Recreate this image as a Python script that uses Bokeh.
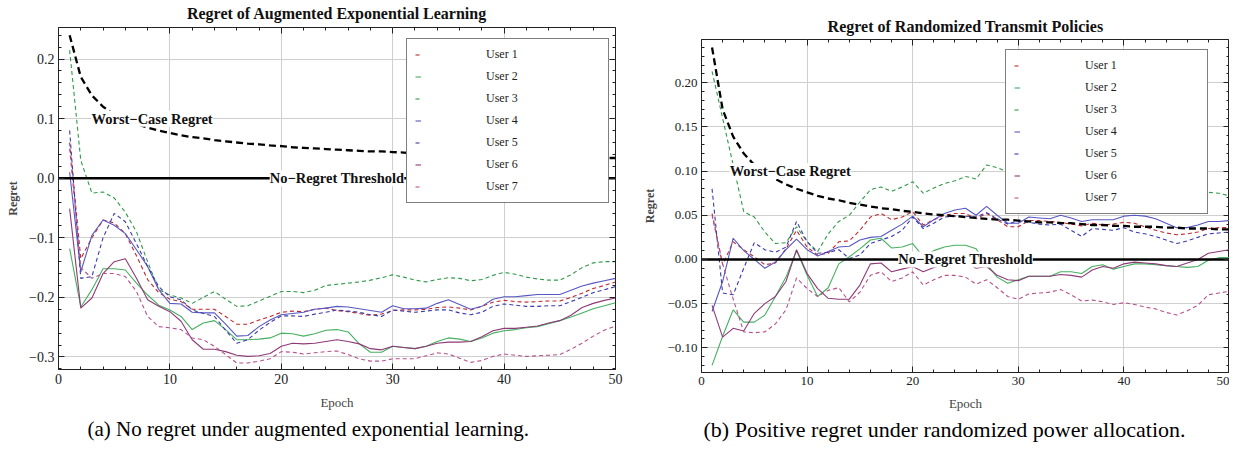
from bokeh.plotting import figure
from bokeh.layouts import row
from bokeh.models import (FixedTicker, LinearAxis, Range1d, Legend, LegendItem,
                          Label, Title)
from bokeh.embed import file_html
from bokeh.resources import INLINE

FONT = "Liberation Serif"

# ---------------- data ----------------
EPOCHS = list(range(1, 51))

WORST_CASE = [0.240, 0.170, 0.139, 0.120, 0.107, 0.098, 0.091, 0.085, 0.080, 0.076,
              0.072, 0.069, 0.067, 0.064, 0.062, 0.060, 0.058, 0.057, 0.055, 0.054,
              0.052, 0.051, 0.050, 0.049, 0.048, 0.047, 0.046, 0.045, 0.045, 0.044,
              0.043, 0.042, 0.042, 0.041, 0.041, 0.040, 0.039, 0.039, 0.038, 0.038,
              0.037, 0.037, 0.037, 0.036, 0.036, 0.035, 0.035, 0.035, 0.034, 0.034]

# (a) augmented exponential learning
A_USER1 = [0.060, -0.135, -0.100, -0.070, -0.075, -0.093, -0.130, -0.170, -0.192, -0.203,
           -0.207, -0.220, -0.220, -0.220, -0.232, -0.245, -0.245, -0.238, -0.232, -0.225,
           -0.223, -0.224, -0.220, -0.218, -0.222, -0.224, -0.227, -0.230, -0.228, -0.222,
           -0.221, -0.221, -0.220, -0.217, -0.216, -0.218, -0.221, -0.215, -0.208, -0.205,
           -0.207, -0.208, -0.207, -0.206, -0.206, -0.200, -0.193, -0.185, -0.180, -0.174]
A_USER2 = [-0.118, -0.216, -0.187, -0.152, -0.152, -0.154, -0.176, -0.196, -0.213, -0.221,
           -0.232, -0.254, -0.243, -0.239, -0.254, -0.271, -0.271, -0.270, -0.268, -0.260,
           -0.261, -0.265, -0.261, -0.255, -0.254, -0.258, -0.278, -0.292, -0.292, -0.282,
           -0.284, -0.286, -0.282, -0.274, -0.268, -0.270, -0.274, -0.268, -0.260, -0.256,
           -0.254, -0.251, -0.249, -0.244, -0.239, -0.233, -0.226, -0.219, -0.214, -0.209]
A_USER3 = [0.215, 0.030, -0.025, -0.023, -0.033, -0.057, -0.090, -0.140, -0.187, -0.196,
           -0.201, -0.210, -0.200, -0.190, -0.203, -0.215, -0.214, -0.206, -0.198, -0.190,
           -0.190, -0.192, -0.188, -0.180, -0.178, -0.176, -0.174, -0.171, -0.167, -0.162,
           -0.166, -0.171, -0.174, -0.170, -0.167, -0.168, -0.172, -0.170, -0.163, -0.158,
           -0.161, -0.166, -0.169, -0.171, -0.171, -0.162, -0.150, -0.142, -0.140, -0.140]
A_USER4 = [0.010, -0.157, -0.096, -0.070, -0.079, -0.093, -0.120, -0.148, -0.187, -0.210,
           -0.211, -0.225, -0.226, -0.226, -0.245, -0.265, -0.264, -0.249, -0.238, -0.229,
           -0.227, -0.225, -0.220, -0.218, -0.215, -0.216, -0.219, -0.222, -0.225, -0.214,
           -0.219, -0.219, -0.218, -0.210, -0.204, -0.212, -0.220, -0.215, -0.203, -0.199,
           -0.199, -0.197, -0.195, -0.195, -0.195, -0.188, -0.181, -0.176, -0.172, -0.168]
A_USER5 = [0.080, -0.168, -0.165, -0.100, -0.059, -0.073, -0.110, -0.148, -0.182, -0.199,
           -0.204, -0.221, -0.227, -0.232, -0.255, -0.277, -0.271, -0.255, -0.242, -0.231,
           -0.231, -0.232, -0.228, -0.225, -0.221, -0.223, -0.225, -0.229, -0.232, -0.221,
           -0.223, -0.225, -0.223, -0.221, -0.221, -0.226, -0.229, -0.225, -0.215, -0.211,
           -0.213, -0.215, -0.215, -0.214, -0.214, -0.207, -0.200, -0.192, -0.187, -0.182]
A_USER6 = [-0.051, -0.218, -0.201, -0.160, -0.140, -0.135, -0.168, -0.204, -0.215, -0.224,
           -0.240, -0.271, -0.287, -0.287, -0.291, -0.297, -0.299, -0.298, -0.294, -0.282,
           -0.277, -0.278, -0.277, -0.274, -0.271, -0.274, -0.278, -0.286, -0.288, -0.282,
           -0.284, -0.286, -0.282, -0.277, -0.275, -0.275, -0.274, -0.266, -0.256, -0.252,
           -0.252, -0.250, -0.248, -0.243, -0.239, -0.230, -0.217, -0.210, -0.205, -0.201]
A_USER7 = [0.050, -0.150, -0.168, -0.160, -0.160, -0.165, -0.190, -0.232, -0.249, -0.251,
           -0.254, -0.268, -0.271, -0.282, -0.296, -0.310, -0.310, -0.307, -0.303, -0.291,
           -0.292, -0.295, -0.293, -0.291, -0.290, -0.296, -0.303, -0.307, -0.307, -0.303,
           -0.303, -0.303, -0.298, -0.293, -0.295, -0.302, -0.309, -0.306, -0.299, -0.295,
           -0.297, -0.299, -0.298, -0.297, -0.296, -0.287, -0.277, -0.265, -0.255, -0.248]

# (b) randomized transmit policies
B_USER1 = [0.052, -0.006, 0.020, 0.011, 0.003, -0.006, -0.004, 0.012, 0.033, 0.014,
           0.005, 0.007, 0.020, 0.021, 0.033, 0.048, 0.052, 0.045, 0.048, 0.054,
           0.039, 0.045, 0.050, 0.052, 0.052, 0.046, 0.052, 0.045, 0.037, 0.037,
           0.044, 0.044, 0.043, 0.042, 0.040, 0.038, 0.041, 0.039, 0.040, 0.042,
           0.041, 0.037, 0.033, 0.030, 0.028, 0.029, 0.031, 0.035, 0.036, 0.036]
B_USER2 = [-0.120, -0.087, -0.057, -0.071, -0.071, -0.063, -0.042, -0.020, 0.010, -0.018,
           -0.042, -0.032, -0.005, 0.003, 0.012, 0.022, 0.024, 0.013, 0.014, 0.018,
           0.003, 0.010, 0.014, 0.016, 0.016, 0.012, -0.005, -0.020, -0.027, -0.023,
           -0.019, -0.019, -0.019, -0.014, -0.014, -0.016, -0.008, -0.006, -0.011, -0.008,
           -0.005, -0.005, -0.006, -0.007, -0.008, -0.009, -0.008, -0.001, 0.002, 0.002]
B_USER3 = [0.213, 0.160, 0.107, 0.054, 0.048, 0.031, 0.018, 0.019, 0.037, 0.020,
           0.009, 0.029, 0.043, 0.050, 0.065, 0.079, 0.082, 0.077, 0.082, 0.088,
           0.075, 0.081, 0.086, 0.089, 0.094, 0.091, 0.107, 0.104, 0.099, 0.096,
           0.096, 0.094, 0.097, 0.092, 0.089, 0.091, 0.088, 0.085, 0.087, 0.084,
           0.086, 0.082, 0.079, 0.081, 0.077, 0.073, 0.071, 0.076, 0.075, 0.072]
B_USER4 = [-0.059, -0.025, 0.024, 0.010, 0.000, -0.010, -0.003, 0.011, 0.023, 0.011,
           0.004, 0.009, 0.014, 0.015, 0.022, 0.025, 0.026, 0.033, 0.040, 0.049,
           0.037, 0.045, 0.052, 0.056, 0.058, 0.050, 0.060, 0.050, 0.041, 0.041,
           0.048, 0.047, 0.046, 0.050, 0.047, 0.043, 0.045, 0.045, 0.045, 0.049,
           0.050, 0.049, 0.046, 0.041, 0.036, 0.036, 0.039, 0.043, 0.043, 0.044]
B_USER5 = [0.080, -0.038, -0.040, -0.010, 0.019, 0.011, 0.008, 0.014, 0.043, 0.020,
           0.007, 0.008, 0.011, 0.001, 0.005, 0.018, 0.022, 0.026, 0.033, 0.048,
           0.035, 0.041, 0.048, 0.049, 0.049, 0.048, 0.053, 0.046, 0.040, 0.044,
           0.042, 0.040, 0.039, 0.040, 0.033, 0.026, 0.035, 0.034, 0.033, 0.036,
           0.031, 0.029, 0.026, 0.022, 0.018, 0.021, 0.025, 0.029, 0.030, 0.031]
B_USER6 = [-0.052, -0.088, -0.078, -0.081, -0.061, -0.050, -0.042, -0.025, 0.011, -0.016,
           -0.033, -0.044, -0.045, -0.045, -0.029, -0.005, -0.004, -0.014, -0.011, -0.008,
           -0.014, -0.009, -0.006, -0.004, -0.003, -0.010, -0.008, -0.018, -0.023, -0.024,
           -0.019, -0.019, -0.019, -0.017, -0.018, -0.020, -0.012, -0.008, -0.010, -0.005,
           -0.003, -0.004, -0.005, -0.007, -0.008, -0.004, 0.000, 0.007, 0.009, 0.011]
B_USER7 = [0.050, -0.005, -0.045, -0.082, -0.083, -0.082, -0.073, -0.057, -0.021, -0.033,
           -0.042, -0.035, -0.032, -0.048, -0.037, -0.018, -0.014, -0.025, -0.021, -0.014,
           -0.029, -0.023, -0.018, -0.018, -0.020, -0.028, -0.023, -0.032, -0.042, -0.045,
           -0.039, -0.038, -0.037, -0.034, -0.040, -0.047, -0.046, -0.048, -0.051, -0.049,
           -0.051, -0.054, -0.056, -0.060, -0.063, -0.058, -0.052, -0.040, -0.038, -0.036]

USER_NAMES = ["User 1", "User 2", "User 3", "User 4", "User 5", "User 6", "User 7"]
USER_COLORS = ["#c0282d", "#46b060", "#2e9a48", "#5858c4", "#3a3aae", "#8e3a78", "#b8508e"]
USER_DASH = ["4 3", "solid", "4 3", "solid", "4 3", "solid", "4 3"]

X_RANGE = (0, 50)
X_MAJOR = [0, 10, 20, 30, 40, 50]
X_MINOR = [2, 4, 6, 8, 12, 14, 16, 18, 22, 24, 26, 28, 32, 34, 36, 38, 42, 44, 46, 48]
X_LABELS = ["0", "10", "20", "30", "40", "50"]

A_Y_RANGE = (-0.321, 0.253)
A_Y_MAJOR = [-0.3, -0.2, -0.1, 0.0, 0.1, 0.2]
A_Y_MINOR = [-0.32, -0.28, -0.26, -0.24, -0.22, -0.18, -0.16, -0.14, -0.12, -0.08, -0.06,
             -0.04, -0.02, 0.02, 0.04, 0.06, 0.08, 0.12, 0.14, 0.16, 0.18, 0.22, 0.24]
A_Y_LABELS = ["\u22120.3", "\u22120.2", "\u22120.1", "0.0", "0.1", "0.2"]

B_Y_RANGE = (-0.128, 0.249)
B_Y_MAJOR = [-0.10, -0.05, 0.0, 0.05, 0.10, 0.15, 0.20]
B_Y_MINOR = [-0.12, -0.11, -0.09, -0.08, -0.07, -0.06, -0.04, -0.03, -0.02, -0.01,
             0.01, 0.02, 0.03, 0.04, 0.06, 0.07, 0.08, 0.09, 0.11, 0.12, 0.13, 0.14,
             0.16, 0.17, 0.18, 0.19, 0.21, 0.22, 0.23, 0.24]
B_Y_LABELS = ["\u22120.10", "\u22120.05", "0.00", "0.05", "0.10", "0.15", "0.20"]

THRESHOLD = 0.0
WORST_LABEL_POS = (8.4, 0.1)
THRESH_LABEL_POS = (25, 0.0)

HEIGHT = 443


def style_axis(ax, major, minor, labels, fs, show_labels=True):
    ax.ticker = FixedTicker(ticks=major, minor_ticks=minor)
    ax.major_tick_in = 6
    ax.major_tick_out = 0
    ax.minor_tick_in = 3
    ax.minor_tick_out = 0
    ax.axis_line_color = "#222222"
    ax.major_tick_line_color = "#222222"
    ax.minor_tick_line_color = "#222222"
    ax.major_label_text_font = FONT
    ax.major_label_text_color = "#222222"
    if show_labels:
        ax.major_label_overrides = {t: l for t, l in zip(major, labels)}
        ax.major_label_text_font_size = fs
    else:
        ax.major_label_overrides = {t: "" for t in major}
        ax.major_label_text_font_size = "0px"
        ax.major_label_standoff = 0


def build(title, series, y_range, y_major, y_minor, y_labels, tick_fs, width,
          mb_left, mb_right, mb_top, mb_bottom, title_standoff, legend_loc,
          caption, cap_fs, cap_offset, cap_standoff, y_label_standoff):
    p = figure(width=width, height=HEIGHT, x_range=Range1d(*X_RANGE),
               y_range=Range1d(*y_range), output_backend="svg", toolbar_location=None,
               min_border_left=mb_left, min_border_right=mb_right,
               min_border_top=mb_top, min_border_bottom=mb_bottom,
               frame_align=False)
    p.title.text = title
    p.title.align = "center"
    p.title.vertical_align = "top"
    p.title.text_font = FONT
    p.title.text_font_size = "16px"
    p.title.text_font_style = "bold"
    p.title.text_color = "#111111"
    p.title.standoff = title_standoff
    p.outline_line_color = "#222222"
    p.outline_line_width = 1

    style_axis(p.xaxis[0], X_MAJOR, X_MINOR, X_LABELS, tick_fs)
    style_axis(p.yaxis[0], y_major, y_minor, y_labels, tick_fs)
    p.xaxis[0].major_label_standoff = 4
    p.yaxis[0].major_label_standoff = 4
    p.xaxis[0].axis_label = "Epoch"
    p.xaxis[0].axis_label_text_font = FONT
    p.xaxis[0].axis_label_text_font_size = "13px"
    p.xaxis[0].axis_label_text_font_style = "normal"
    p.xaxis[0].axis_label_standoff = 8
    p.yaxis[0].axis_label = "Regret"
    p.yaxis[0].axis_label_text_font = FONT
    p.yaxis[0].axis_label_text_font_size = "12px"
    p.yaxis[0].axis_label_text_font_style = "bold"
    p.yaxis[0].axis_label_standoff = y_label_standoff

    # mirrored frame ticks on top and right, drawn on the frame edge (take no space)
    top = LinearAxis(fixed_location=y_range[1])
    style_axis(top, X_MAJOR, X_MINOR, X_LABELS, tick_fs, show_labels=False)
    p.add_layout(top, "above")
    right = LinearAxis(fixed_location=X_RANGE[1])
    style_axis(right, y_major, y_minor, y_labels, tick_fs, show_labels=False)
    p.add_layout(right, "right")

    p.xgrid.ticker = FixedTicker(ticks=X_MAJOR[1:-1])
    p.ygrid.ticker = FixedTicker(ticks=y_major)
    p.grid.grid_line_color = "#cfcfcf"
    p.grid.grid_line_width = 1

    renderers = []
    for ys, color, dash in zip(series, USER_COLORS, USER_DASH):
        r = p.line(EPOCHS, ys, line_color=color, line_width=1.1, line_dash=dash)
        renderers.append(r)

    p.line(EPOCHS, WORST_CASE, line_color="black", line_width=2.3, line_dash="7 4")
    p.line([X_RANGE[0], X_RANGE[1]], [THRESHOLD, THRESHOLD], line_color="black",
           line_width=2.5)

    p.add_layout(Label(x=WORST_LABEL_POS[0], y=WORST_LABEL_POS[1], text="Worst\u2212Case Regret",
                       text_align="center", text_baseline="middle", text_font=FONT,
                       text_font_style="bold", text_font_size="14.5px", text_color="#111111",
                       background_fill_color="white", background_fill_alpha=1.0))
    p.add_layout(Label(x=THRESH_LABEL_POS[0], y=THRESH_LABEL_POS[1], text="No\u2212Regret Threshold",
                       text_align="center", text_baseline="middle", text_font=FONT,
                       text_font_style="bold", text_font_size="14.5px", text_color="#111111",
                       background_fill_color="white", background_fill_alpha=1.0))

    items = [LegendItem(label=n, renderers=[r]) for n, r in zip(USER_NAMES, renderers)]
    leg = Legend(items=items, location=legend_loc, glyph_width=6, glyph_height=15,
                 label_height=15, label_width=114, label_standoff=65, spacing=7,
                 padding=8, margin=0, border_line_color="black", border_line_width=1,
                 background_fill_color="white", background_fill_alpha=1.0,
                 label_text_font=FONT, label_text_font_size="12px",
                 label_text_color="#222222")
    p.add_layout(leg)

    cap = Title(text=caption, align="left", offset=cap_offset, text_font=FONT,
                text_font_size=cap_fs, text_font_style="normal", text_color="black",
                standoff=cap_standoff)
    p.add_layout(cap, "below")
    return p


pa = build("Regret of Augmented Exponential Learning",
           [A_USER1, A_USER2, A_USER3, A_USER4, A_USER5, A_USER6, A_USER7],
           A_Y_RANGE, A_Y_MAJOR, A_Y_MINOR, A_Y_LABELS, "14px", 640,
           58, 25, 27, 73, 7, (348, 166),
           "(a)  No regret under augmented exponential learning.", "21px", 29, 5, 6)
pb = build("Regret of Randomized Transmit Policies",
           [B_USER1, B_USER2, B_USER3, B_USER4, B_USER5, B_USER6, B_USER7],
           B_Y_RANGE, B_Y_MAJOR, B_Y_MINOR, B_Y_LABELS, "13px", 589,
           60, 0, 39, 71, 6, (304, 158),
           "(b)  Positive regret under randomized power allocation.", "22px", 2, 3, 7)

layout = row(pa, pb)
open("out.html", "w").write(file_html(layout, INLINE))
